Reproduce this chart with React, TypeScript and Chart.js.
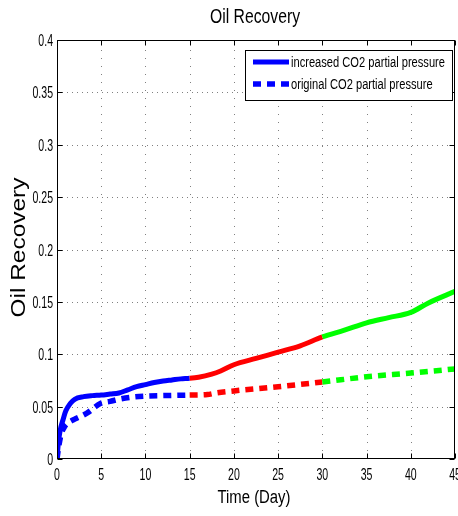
import { useEffect, useRef } from "react";
import { Chart, registerables } from "chart.js";
Chart.register(...registerables);

const increasedDays = [0, 0.15, 0.35, 0.7, 1, 1.5, 2, 3, 4, 5, 6, 7, 8, 9, 10, 11, 12, 13, 14, 15, 16, 17.5, 18.5, 20, 22.5, 25, 27.5, 30, 32.5, 35, 37.5, 40, 42, 45];
const increasedRecovery = [0, 0.015, 0.027, 0.038, 0.046, 0.053, 0.057, 0.0595, 0.0605, 0.061, 0.062, 0.063, 0.066, 0.069, 0.071, 0.073, 0.0745, 0.0755, 0.0765, 0.077, 0.078, 0.081, 0.084, 0.09, 0.096, 0.102, 0.108, 0.1165, 0.123, 0.13, 0.135, 0.14, 0.149, 0.16];
const originalDays = [0, 0.2, 0.45, 0.8, 1.2, 2, 2.5, 3, 3.6, 4.2, 4.9, 6, 7, 8.5, 10, 12, 15, 17, 18, 20, 25, 30, 35, 40, 45];
const originalRecovery = [0, 0.012, 0.023, 0.03, 0.034, 0.038, 0.04, 0.042, 0.045, 0.049, 0.053, 0.055, 0.057, 0.059, 0.06, 0.0605, 0.061, 0.0615, 0.063, 0.065, 0.069, 0.0735, 0.0785, 0.082, 0.086];
const seriesLabels = ["increased CO2 partial pressure", "original CO2 partial pressure"];
const phaseStarts = [0, 15, 30];
const phaseColors = ["#0000ff", "#ff0000", "#00ff00"];
const xTicks = [0, 5, 10, 15, 20, 25, 30, 35, 40, 45];
const yTicks = [0, 0.05, 0.1, 0.15, 0.2, 0.25, 0.3, 0.35, 0.4];
const yTickLabels = ["0", "0.05", "0.1", "0.15", "0.2", "0.25", "0.3", "0.35", "0.4"];
const titleText = "Oil Recovery";
const xAxisTitle = "Time (Day)";
const yAxisTitle = "Oil Recovery";

const SANS = '"Liberation Sans", Arial, sans-serif';

function phaseColor(x: number) {
  let c = phaseColors[0];
  for (let i = 0; i < phaseStarts.length; i++) if (x >= phaseStarts[i] - 1e-9) c = phaseColors[i];
  return c;
}

function drawText(ctx: CanvasRenderingContext2D, s: string, x: number, y: number, font: string, align: CanvasTextAlign, sx = 1) {
  ctx.save();
  ctx.translate(x, y);
  ctx.scale(sx, 1);
  ctx.font = font;
  ctx.textAlign = align;
  ctx.textBaseline = "alphabetic";
  ctx.fillStyle = "#000";
  ctx.fillText(s, 0, 0);
  ctx.restore();
}

function fitScale(ctx: CanvasRenderingContext2D, s: string, font: string, width: number) {
  ctx.save();
  ctx.font = font;
  const w = ctx.measureText(s).width;
  ctx.restore();
  return width / w;
}

const matlabPlugin = {
  id: "matlabDecor",
  beforeDatasetsDraw(chart: any) {
    const ctx: CanvasRenderingContext2D = chart.ctx;
    const { left, right, top, bottom } = chart.chartArea;
    const xs = chart.scales.x, ys = chart.scales.y;
    ctx.save();
    ctx.fillStyle = "#fff";
    ctx.fillRect(left, top, right - left, bottom - top);
    ctx.strokeStyle = "#808080";
    ctx.lineWidth = 1;
    ctx.setLineDash([1, 7]);
    xTicks.forEach((t) => {
      const px = Math.round(xs.getPixelForValue(t)) + 0.5;
      if (t === xTicks[0] || t === xTicks[xTicks.length - 1]) return;
      ctx.beginPath(); ctx.moveTo(px, bottom); ctx.lineTo(px, top); ctx.stroke();
    });
    ctx.setLineDash([1, 4]);
    yTicks.forEach((t) => {
      const py = Math.round(ys.getPixelForValue(t)) + 0.5;
      if (t === yTicks[0] || t === yTicks[yTicks.length - 1]) return;
      ctx.beginPath(); ctx.moveTo(left, py); ctx.lineTo(right, py); ctx.stroke();
    });
    ctx.restore();
  },
  afterDatasetsDraw(chart: any) {
    const ctx: CanvasRenderingContext2D = chart.ctx;
    const { left, right, top, bottom } = chart.chartArea;
    const xs = chart.scales.x, ys = chart.scales.y;
    ctx.save();
    ctx.strokeStyle = "#000";
    ctx.lineWidth = 1;
    ctx.setLineDash([]);
    const L = Math.round(left) + 0.5, R = Math.round(right) - 0.5, T = Math.round(top) + 0.5, B = Math.round(bottom) - 0.5;
    ctx.strokeRect(L, T, R - L, B - T);
    const tl = 5;
    const tickFont = `16px ${SANS}`;
    const tsx = 0.66;
    xTicks.forEach((t) => {
      const px = Math.round(xs.getPixelForValue(t)) + 0.5;
      ctx.beginPath(); ctx.moveTo(px, B); ctx.lineTo(px, B - tl); ctx.moveTo(px, T); ctx.lineTo(px, T + tl); ctx.stroke();
      drawText(ctx, String(t), xs.getPixelForValue(t), bottom + 20.5, tickFont, "center", tsx);
    });
    yTicks.forEach((t, i) => {
      const py = Math.round(ys.getPixelForValue(t)) + 0.5;
      ctx.beginPath(); ctx.moveTo(L, py); ctx.lineTo(L + tl, py); ctx.moveTo(R, py); ctx.lineTo(R - tl, py); ctx.stroke();
      drawText(ctx, yTickLabels[i], left - 4, ys.getPixelForValue(t) + 6, tickFont, "right", tsx);
    });
    // title and axis titles
    const tFont = `20px ${SANS}`;
    drawText(ctx, titleText, (left + right) / 2 - 1, 23, tFont, "center", fitScale(ctx, titleText, tFont, 90));
    const xFont = `18px ${SANS}`;
    drawText(ctx, xAxisTitle, (left + right) / 2 - 2, 503, xFont, "center", fitScale(ctx, xAxisTitle, xFont, 73));
    ctx.save();
    ctx.translate(25, (top + bottom) / 2 - 2);
    ctx.rotate(-Math.PI / 2);
    const yFont = `21px ${SANS}`;
    drawText(ctx, yAxisTitle, 0, 0, yFont, "center", fitScale(ctx, yAxisTitle, yFont, 140));
    ctx.restore();
    // legend
    const bx = 245.5, by = 50.5, bw = 207, bh = 50;
    ctx.fillStyle = "#fff";
    ctx.fillRect(bx, by, bw, bh);
    ctx.strokeStyle = "#000";
    ctx.lineWidth = 1;
    ctx.strokeRect(bx, by, bw, bh);
    const rows = [62, 84];
    chart.data.datasets.forEach((ds: any, i: number) => {
      ctx.save();
      ctx.strokeStyle = phaseColors[0];
      ctx.lineWidth = ds.borderWidth;
      ctx.lineCap = "butt";
      ctx.setLineDash(ds.borderDash || []);
      ctx.beginPath(); ctx.moveTo(253, rows[i]); ctx.lineTo(289, rows[i]); ctx.stroke();
      ctx.restore();
    });
    const lFont = `14px ${SANS}`;
    const lsx = fitScale(ctx, seriesLabels[0], lFont, 154);
    seriesLabels.forEach((s, i) => drawText(ctx, s, 291, rows[i] + 4.5, lFont, "left", lsx));
    ctx.restore();
  },
};

export default function App() {
  const ref = useRef<HTMLCanvasElement | null>(null);
  useEffect(() => {
    document.body.style.margin = "0";
    const canvas = ref.current!;
    const segColor = (c: any) => phaseColor(c.p0.parsed.x);
    const chart = new Chart(canvas, {
      type: "line",
      data: {
        datasets: [
          {
            label: seriesLabels[0],
            data: increasedDays.map((d, i) => ({ x: d, y: increasedRecovery[i] })),
            borderColor: phaseColors[0],
            borderWidth: 5,
            pointRadius: 0,
            cubicInterpolationMode: "monotone",
            borderCapStyle: "butt",
            segment: { borderColor: segColor },
          } as any,
          {
            label: seriesLabels[1],
            data: originalDays.map((d, i) => ({ x: d, y: originalRecovery[i] })),
            borderColor: phaseColors[0],
            borderWidth: 5.5,
            borderDash: [8, 6],
            pointRadius: 0,
            cubicInterpolationMode: "monotone",
            borderCapStyle: "butt",
            segment: { borderColor: segColor },
          } as any,
        ],
      },
      options: {
        responsive: false,
        animation: false,
        layout: { padding: { top: 40, right: 3, left: 0, bottom: 0 } },
        plugins: { legend: { display: false }, title: { display: false }, tooltip: { enabled: false } },
        events: [],
        scales: {
          x: {
            type: "linear", min: 0, max: 45,
            ticks: { display: false }, grid: { display: false }, border: { display: false },
            afterFit: (s: any) => { s.height = 57; s.paddingLeft = 0; s.paddingRight = 0; },
          },
          y: {
            type: "linear", min: 0, max: 0.4,
            ticks: { display: false }, grid: { display: false }, border: { display: false },
            afterFit: (s: any) => { s.width = 57; s.paddingTop = 0; s.paddingBottom = 0; },
          },
        },
      },
      plugins: [matlabPlugin],
    });
    return () => chart.destroy();
  }, []);
  return (
    <div style={{ position: "absolute", left: 0, top: 0, width: 458, height: 516, background: "#fff" }}>
      <canvas ref={ref} width={458} height={516} style={{ display: "block", width: 458, height: 516 }} />
    </div>
  );
}
